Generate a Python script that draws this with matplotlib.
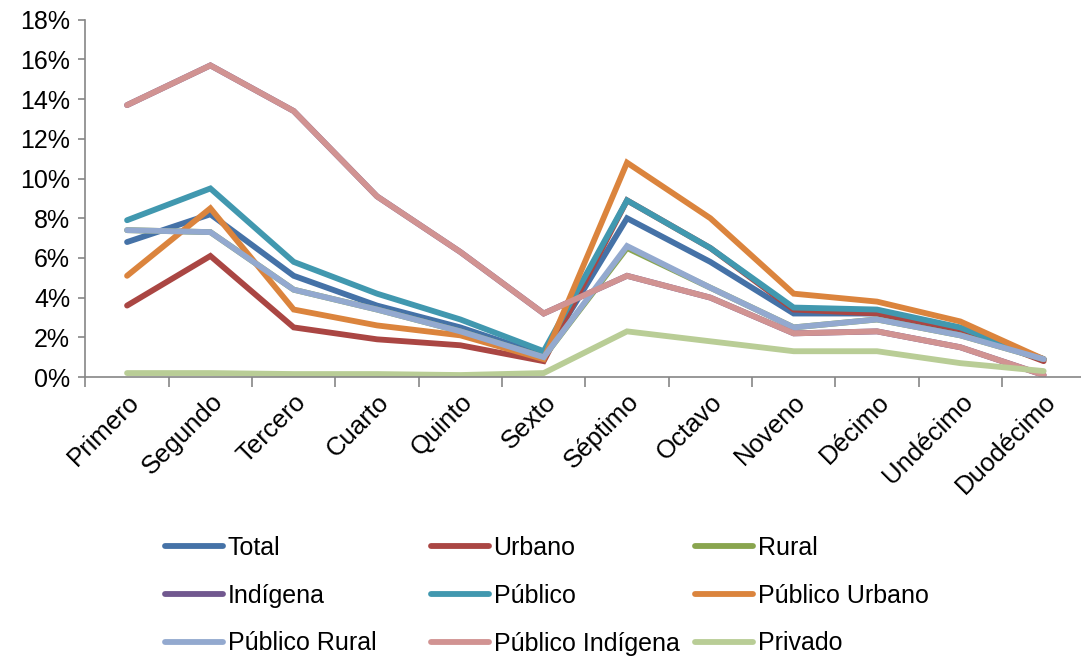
import matplotlib.pyplot as plt
from matplotlib.ticker import FuncFormatter, MultipleLocator

plt.rcParams['font.family'] = ['Liberation Sans', 'DejaVu Sans']

grades = ["Primero", "Segundo", "Tercero", "Cuarto", "Quinto", "Sexto",
          "Séptimo", "Octavo", "Noveno", "Décimo", "Undécimo", "Duodécimo"]

total = [6.8, 8.2, 5.1, 3.6, 2.5, 1.1, 8.0, 5.8, 3.2, 3.2, 2.3, 0.9]
urbano = [3.6, 6.1, 2.5, 1.9, 1.6, 0.8, 8.9, 6.5, 3.4, 3.2, 2.4, 0.8]
rural = [7.4, 7.3, 4.4, 3.4, 2.3, 1.0, 6.5, 4.5, 2.5, 2.9, 2.1, 0.9]
indigena = [13.7, 15.7, 13.4, 9.1, 6.3, 3.2, 5.1, 4.0, 2.2, 2.3, 1.5, 0.1]
publico = [7.9, 9.5, 5.8, 4.2, 2.9, 1.3, 8.9, 6.5, 3.5, 3.4, 2.5, 0.9]
publico_urbano = [5.1, 8.5, 3.4, 2.6, 2.1, 0.9, 10.8, 8.0, 4.2, 3.8, 2.8, 0.9]
publico_rural = [7.4, 7.3, 4.4, 3.4, 2.3, 1.0, 6.6, 4.5, 2.5, 2.9, 2.1, 0.9]
publico_indigena = [13.7, 15.7, 13.4, 9.1, 6.3, 3.2, 5.1, 4.0, 2.2, 2.3, 1.5, 0.1]
privado = [0.2, 0.2, 0.15, 0.15, 0.1, 0.2, 2.3, 1.8, 1.3, 1.3, 0.7, 0.3]

series = [
    ("Total", total, "#4572A7"),
    ("Urbano", urbano, "#AA4643"),
    ("Rural", rural, "#89A54E"),
    ("Indígena", indigena, "#71588F"),
    ("Público", publico, "#4198AF"),
    ("Público Urbano", publico_urbano, "#DB843D"),
    ("Público Rural", publico_rural, "#93A9CF"),
    ("Público Indígena", publico_indigena, "#D19392"),
    ("Privado", privado, "#B9CD96"),
]

fig = plt.figure(figsize=(10.81, 6.58), dpi=100)
ax = fig.add_axes([0.079, 0.427, 0.925, 0.543])

x = list(range(len(grades)))
lines = []
for name, vals, col in series:
    ln, = ax.plot(x, vals, color=col, lw=4.2, label=name, solid_capstyle="round",
                  solid_joinstyle="miter")
    lines.append(ln)

ax.set_xlim(-0.5, len(grades) - 0.5)
ax.set_ylim(0, 18)
ax.yaxis.set_major_locator(MultipleLocator(2))
ax.yaxis.set_major_formatter(FuncFormatter(lambda v, p: f"{v:.0f}%"))

ax.set_xticks(x)
ax.set_xticklabels(grades, rotation=45, ha="right", rotation_mode="anchor",
                   fontsize=18.5)
ax.tick_params(axis="x", which="major", length=0, pad=9)
ax.set_xticks([i + 0.5 for i in range(-1, len(grades))], minor=True)
ax.tick_params(axis="x", which="minor", length=7, color="#868686", width=1.2)
ax.tick_params(axis="y", labelsize=18, length=5, color="#868686", width=1.2,
               pad=6)

for s in ["top", "right"]:
    ax.spines[s].set_visible(False)
for s in ["left", "bottom"]:
    ax.spines[s].set_color("#868686")
    ax.spines[s].set_linewidth(1.2)

# legend laid out row by row in three fixed-width columns
col_x = [165, 431, 695]
for j in range(3):
    hs = [lines[3 * r + j] for r in range(3)]
    fig.legend(handles=hs, loc="upper left",
               bbox_to_anchor=(col_x[j] / 1081, 1 - 536 / 658),
               frameon=False, fontsize=18, handlelength=2.3,
               handletextpad=0.2, labelspacing=0.95, borderpad=0,
               borderaxespad=0)

fig.savefig("out.png", dpi=100)
